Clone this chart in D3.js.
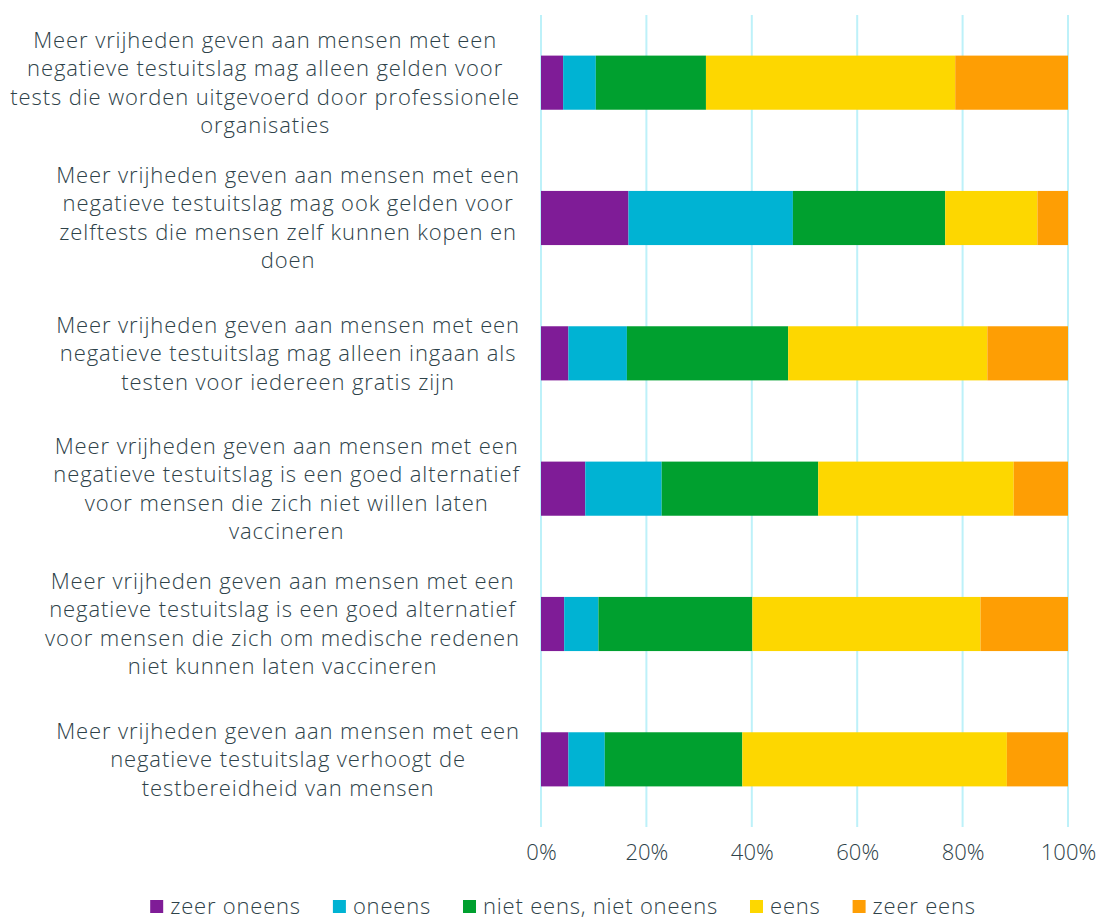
<!DOCTYPE html>
<html>
<head>
<meta charset="utf-8">
<script src="https://cdn.jsdelivr.net/npm/d3@7"></script>
<style>
  body { margin: 0; background: #fff; }
  text { font-family: "Open Sans", Lato, sans-serif; font-weight: 300; fill: #2e4249; }
</style>
</head>
<body>
<svg class="bar-chart" width="1098" height="920"></svg>
<script>
// categories (each label pre-wrapped in lines, as in the original)
const categories = [
  ["Meer vrijheden geven aan mensen met een", "negatieve testuitslag mag alleen gelden voor", "tests die worden uitgevoerd door professionele", "organisaties"],
  ["Meer vrijheden geven aan mensen met een", "negatieve testuitslag mag ook gelden voor", "zelftests die mensen zelf kunnen kopen en", "doen"],
  ["Meer vrijheden geven aan mensen met een", "negatieve testuitslag mag alleen ingaan als", "testen voor iedereen gratis zijn"],
  ["Meer vrijheden geven aan mensen met een", "negatieve testuitslag is een goed alternatief", "voor mensen die zich niet willen laten", "vaccineren"],
  ["Meer vrijheden geven aan mensen met een", "negatieve testuitslag is een goed alternatief", "voor mensen die zich om medische redenen", "niet kunnen laten vaccineren"],
  ["Meer vrijheden geven aan mensen met een", "negatieve testuitslag verhoogt de", "testbereidheid van mensen"]
];

const seriesNames = ["zeer oneens", "oneens", "niet eens, niet oneens", "eens", "zeer eens"];

// percentages per category, one array per series
const zeerOneens = [4.2, 16.6, 5.2, 8.4, 4.4, 5.2];
const oneens = [6.2, 31.2, 11.1, 14.5, 6.5, 6.9];
const neutraal = [20.9, 28.9, 30.6, 29.7, 29.2, 26.1];
const eens = [47.3, 17.5, 37.8, 37.1, 43.3, 50.2];
const zeerEens = [21.4, 5.8, 15.3, 10.3, 16.6, 11.6];

const tickValues = [0, 20, 40, 60, 80, 100];

const colors = ["#7f1c97", "#00b3d3", "#00a02f", "#fdd700", "#fe9e04"];

const svg = d3.select(".bar-chart");

const rows = categories.map((c, i) => ({
  idx: i,
  lines: c,
  vals: [zeerOneens[i], oneens[i], neutraal[i], eens[i], zeerEens[i]]
}));

const xScale = d3.scaleLinear().domain([0, 100]).range([541, 1068]);
const yScale = d3.scaleBand()
  .domain(rows.map(d => d.idx))
  .range([15, 827])
  .paddingInner(0.6)
  .paddingOuter(0.3);

// gridlines
svg.append("g")
  .selectAll("line")
  .data(tickValues)
  .enter()
  .append("line")
  .attr("x1", d => xScale(d))
  .attr("x2", d => xScale(d))
  .attr("y1", 15)
  .attr("y2", 827)
  .style("stroke", "#bdf1f9")
  .style("stroke-width", 2);

// x axis labels
const xAxis = svg.append("g")
  .attr("transform", "translate(0,827)")
  .call(d3.axisBottom(xScale).tickValues(tickValues).tickFormat(d => d + "%").tickSize(0).tickPadding(17));
xAxis.select(".domain").remove();
xAxis.selectAll("text")
  .style("font-size", "22px")
  .style("font-family", null);

// stacked bars
const stack = d3.stack().keys([0, 1, 2, 3, 4]).value((d, k) => d.vals[k]);
const stacked = stack(rows);

svg.append("g")
  .selectAll("g")
  .data(stacked)
  .enter()
  .append("g")
  .style("fill", (d, i) => colors[i])
  .selectAll("rect")
  .data(d => d)
  .enter()
  .append("rect")
  .attr("x", d => xScale(d[0]))
  .attr("y", d => yScale(d.data.idx))
  .attr("width", d => xScale(d[1]) - xScale(d[0]))
  .attr("height", yScale.bandwidth());

// category labels: centred lines, block right-aligned at 520
const lineH = 28.5;
const labelRight = 520;
rows.forEach(r => {
  const g = svg.append("g");
  const cy = yScale(r.idx) + yScale.bandwidth() / 2;
  const n = r.lines.length;
  const texts = g.selectAll("text")
    .data(r.lines)
    .enter()
    .append("text")
    .attr("y", (d, i) => cy + (i - (n - 1) / 2) * lineH)
    .attr("dy", "0.35em")
    .style("font-size", "22px")
    .style("letter-spacing", "0.9px")
    .style("text-anchor", "middle")
    .text(d => d);
  let maxW = 0;
  texts.each(function() { maxW = Math.max(maxW, this.getComputedTextLength()); });
  texts.attr("x", labelRight - maxW / 2);
});

// legend
const legend = svg.append("g");
let lx = 0;
seriesNames.forEach((name, i) => {
  legend.append("rect")
    .attr("x", lx)
    .attr("y", -6)
    .attr("width", 13)
    .attr("height", 13)
    .style("fill", colors[i]);
  const t = legend.append("text")
    .attr("x", lx + 20)
    .attr("y", 0)
    .attr("dy", "0.35em")
    .style("font-size", "22px")
    .style("letter-spacing", "0.8px")
    .text(name);
  lx += 20 + t.node().getComputedTextLength() + 32;
});
const legendW = lx - 32;
legend.attr("transform", "translate(" + (563 - legendW / 2) + ",906)");
</script>
</body>
</html>
